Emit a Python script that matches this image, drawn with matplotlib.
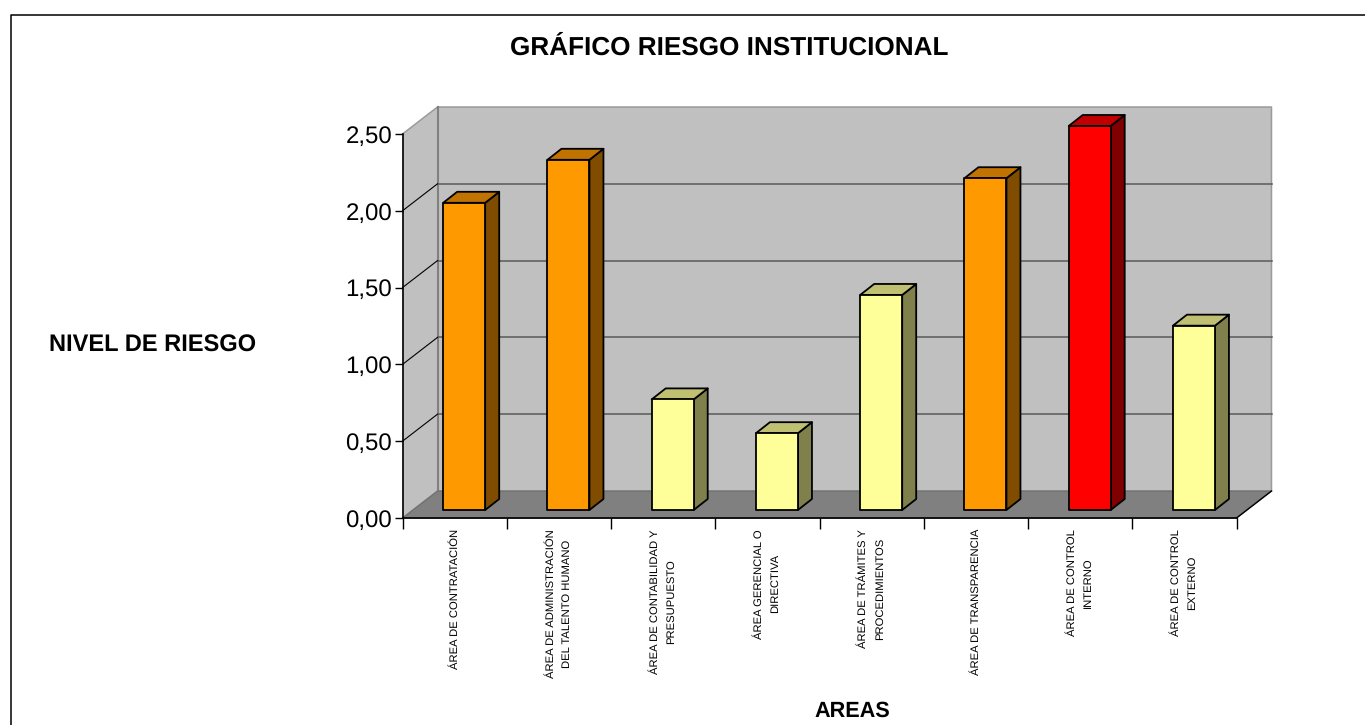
import matplotlib
matplotlib.use('Agg')
import matplotlib.pyplot as plt
from matplotlib.patches import Polygon, Rectangle

plt.rcParams['font.family'] = ['Liberation Sans', 'DejaVu Sans']
plt.rcParams['text.hinting'] = 'none'

W, H = 1365, 725

categories = ['ÁREA DE CONTRATACIÓN', 'ÁREA DE ADMINISTRACIÓN\nDEL TALENTO HUMANO',
              'ÁREA DE CONTABILIDAD Y\nPRESUPUESTO', 'ÁREA GERENCIAL O\nDIRECTIVA',
              'ÁREA DE TRÁMITES Y\nPROCEDIMIENTOS', 'ÁREA DE TRANSPARENCIA',
              'ÁREA DE CONTROL\nINTERNO', 'ÁREA DE CONTROL\nEXTERNO']
values = [2.0, 2.28, 0.72, 0.5, 1.4, 2.16, 2.5, 1.2]
yticks = [0, 0.5, 1.0, 1.5, 2.0, 2.5]
ytick_labels = ['0,00', '0,50', '1,00', '1,50', '2,00', '2,50']

# (front, top, side) colours per risk level
ORANGE = ('#FF9900', '#C07300', '#804D00')
YELLOW = ('#FFFF99', '#C0C073', '#80804D')
RED = ('#FF0000', '#C00000', '#800000')
bar_colors = [ORANGE, ORANGE, YELLOW, YELLOW, YELLOW, ORANGE, RED, YELLOW]

fig = plt.figure(figsize=(W / 100, H / 100), dpi=100, facecolor='white')

# outer chart frame: only left and top show, the rest is cut off
fig.add_artist(plt.Line2D([10.5 / W, 10.5 / W, 1], [0, 1 - 15 / H, 1 - 15 / H],
                          transform=fig.transFigure, color='black', lw=1.1))

# axes = front plane of the 3D box
x0, x1, y_top, y_bot = 402.5, 1236.5, 134, 518
ax = fig.add_axes([x0 / W, 1 - y_bot / H, (x1 - x0) / W, (y_bot - y_top) / H])
ax.set_xlim(0, len(categories))
ax.set_ylim(0, 2.5)
ax.patch.set_visible(False)
for s in ('top', 'right'):
    ax.spines[s].set_visible(False)

# depth of box in data units
dx = 35 / ((x1 - x0) / len(categories))
dy = 27 / ((y_bot - y_top) / 2.5)
n = len(categories)

# walls and floor
ax.add_patch(Polygon([(dx, dy), (n + dx, dy), (n + dx, 2.5 + dy), (dx, 2.5 + dy)],
                     fc='#C0C0C0', ec='none', zorder=1, clip_on=False))
ax.add_patch(Polygon([(0, 0), (dx, dy), (dx, 2.5 + dy), (0, 2.5)],
                     fc='#C0C0C0', ec='none', zorder=1, clip_on=False))
ax.add_patch(Polygon([(0, 0), (n, 0), (n + dx, dy), (dx, dy)],
                     fc='#808080', ec='#707070', lw=1, zorder=1.5, clip_on=False))

# wall edges
ax.plot([0, dx, n + dx, n + dx], [2.5, 2.5 + dy, 2.5 + dy, dy], color='#9a9a9a', lw=1.1,
        zorder=1.1, clip_on=False)
ax.plot([dx, dx], [dy, 2.5 + dy], color='#808080', lw=1.5, zorder=1.1, clip_on=False)

# gridlines, back wall and side wall
for t in yticks[1:-1]:
    ax.plot([dx, n + dx], [t + dy, t + dy], color='#5a5a5a', lw=1.1, zorder=1.2, clip_on=False)
    ax.plot([0, dx], [t, t + dy], color='black', lw=0.8, zorder=1.2, clip_on=False)
ax.plot([n, n + dx], [0, dy], color='black', lw=1, zorder=1.6, clip_on=False)

# 3D bars
bar_w = 42 / ((x1 - x0) / n)
bar_dx = 14 / ((x1 - x0) / n)
bar_dy = 11 / ((y_bot - y_top) / 2.5)
base = 8 / ((y_bot - y_top) / 2.5)
for i, (v, col) in enumerate(zip(values, bar_colors)):
    left = i + 40.7 / ((x1 - x0) / n)
    right = left + bar_w
    kw = dict(ec='black', lw=1.3, joinstyle='round', zorder=3, clip_on=False)
    ax.add_patch(Polygon([(right, base), (right + bar_dx, base + bar_dy),
                          (right + bar_dx, base + v + bar_dy), (right, base + v)], fc=col[2], **kw))
    ax.add_patch(Polygon([(left, base + v), (right, base + v),
                          (right + bar_dx, base + v + bar_dy), (left + bar_dx, base + v + bar_dy)], fc=col[1], **kw))
    ax.add_patch(Rectangle((left, base), bar_w, v, fc=col[0], **kw))

ax.set_yticks(yticks)
ax.set_yticklabels(ytick_labels, fontsize=17.3)
ax.tick_params(axis='y', length=6, width=1, pad=1.5)
ax.set_xticks(range(n + 1))
ax.set_xticklabels([])
ax.tick_params(axis='x', which='major', length=8, width=1)
ax.set_xticks([i + 0.5 for i in range(n)], minor=True)
ax.set_xticklabels(categories, minor=True, rotation=90, fontsize=8.15, va='top', ha='center',
                   multialignment='center', linespacing=1.75)
ax.tick_params(axis='x', which='minor', length=0, pad=8)
for s in ('left', 'bottom'):
    ax.spines[s].set_linewidth(1.2)
    ax.spines[s].set_zorder(2)

fig.text(729 / W, 1 - 48 / H, 'GRÁFICO RIESGO INSTITUCIONAL', fontsize=18.8, fontweight='bold',
         ha='center', va='center')
fig.text(153 / W, 1 - 346 / H, 'NIVEL DE RIESGO', fontsize=17, fontweight='bold',
         ha='center', va='center')
fig.text(852 / W, 1 - 711 / H, 'AREAS', fontsize=15.6, fontweight='bold',
         ha='center', va='center')

plt.savefig('out.png', dpi=100)
plt.close()
